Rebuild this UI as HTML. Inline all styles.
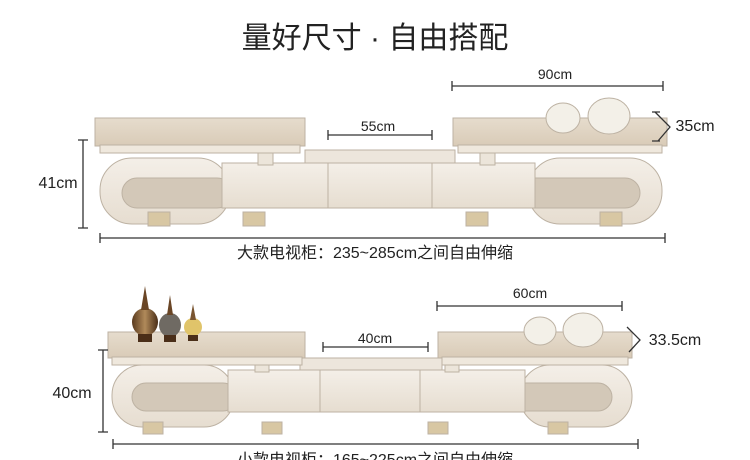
<!DOCTYPE html>
<html><head><meta charset="utf-8"><style>
html,body{margin:0;padding:0;background:#fff}
svg{display:block}
text{font-family:"Liberation Sans","Noto Sans CJK SC",sans-serif;fill:#222}
</style></head><body>
<svg width="750" height="460" viewBox="0 0 750 460" xmlns="http://www.w3.org/2000/svg">
<defs>
<linearGradient id="m" x1="0" y1="0" x2="0" y2="1"><stop offset="0" stop-color="#e6dccd"/><stop offset="1" stop-color="#d9cbb7"/></linearGradient>
<linearGradient id="b" x1="0" y1="0" x2="0" y2="1"><stop offset="0" stop-color="#f4efe8"/><stop offset="1" stop-color="#e6ddd0"/></linearGradient>
<linearGradient id="v" x1="0" y1="0" x2="1" y2="0"><stop offset="0" stop-color="#5a3a1e"/><stop offset="0.5" stop-color="#b08a5a"/><stop offset="1" stop-color="#4a2e18"/></linearGradient>
</defs>
<text x="375" y="48" font-size="30" text-anchor="middle" fill="#333">量好尺寸 · 自由搭配</text>

<g stroke="#bdb2a3" stroke-width="1">
<rect x="100" y="158" width="130" height="66" rx="32" fill="url(#b)"/>
<rect x="122" y="178" width="110" height="30" rx="15" fill="#d3c8b8"/>
<rect x="528" y="158" width="134" height="66" rx="32" fill="url(#b)"/>
<rect x="520" y="178" width="120" height="30" rx="15" fill="#d3c8b8"/>
<rect x="148" y="212" width="22" height="14" fill="#d8c7a3"/>
<rect x="243" y="212" width="22" height="14" fill="#d8c7a3"/>
<rect x="466" y="212" width="22" height="14" fill="#d8c7a3"/>
<rect x="600" y="212" width="22" height="14" fill="#d8c7a3"/>
<rect x="305" y="150" width="150" height="18" fill="#ede6dc"/>
<rect x="222" y="163" width="313" height="45" fill="url(#b)"/>
<line x1="328" y1="163" x2="328" y2="208"/><line x1="432" y1="163" x2="432" y2="208"/>
<rect x="258" y="150" width="15" height="15" fill="#ece5da"/>
<rect x="480" y="150" width="15" height="15" fill="#ece5da"/>
<rect x="95" y="118" width="210" height="28" fill="url(#m)"/>
<rect x="100" y="145" width="200" height="8" fill="#efe8dd"/>
<rect x="453" y="118" width="214" height="28" fill="url(#m)"/>
<rect x="458" y="145" width="204" height="8" fill="#efe8dd"/>
<ellipse cx="563" cy="118" rx="17" ry="15" fill="#f3f0e8"/>
<ellipse cx="609" cy="116" rx="21" ry="18" fill="#f3f0e8"/>
</g>
<g stroke="#333" stroke-width="1.3" fill="none">
<path d="M83 140V228M78 140H88M78 228H88"/>
<path d="M100 238H665M100 233V243M665 233V243"/>
<path d="M452 86H663M452 81V91M663 81V91"/>
<path d="M328 135H432M328 130V140M432 130V140"/>
<path d="M655 112L670 127L658 141M652 112H660M652 141H660"/>
</g>
<text x="58" y="188" font-size="16" text-anchor="middle">41cm</text>
<text x="555" y="79" font-size="14" text-anchor="middle">90cm</text>
<text x="378" y="131" font-size="14" text-anchor="middle">55cm</text>
<text x="695" y="131" font-size="16" text-anchor="middle">35cm</text>
<text x="375" y="258" font-size="16" text-anchor="middle">大款电视柜：235~285cm之间自由伸缩</text>

<g stroke="#bdb2a3" stroke-width="1">
<rect x="112" y="365" width="122" height="62" rx="30" fill="url(#b)"/>
<rect x="132" y="383" width="105" height="28" rx="14" fill="#d3c8b8"/>
<rect x="520" y="365" width="112" height="62" rx="30" fill="url(#b)"/>
<rect x="512" y="383" width="100" height="28" rx="14" fill="#d3c8b8"/>
<rect x="143" y="422" width="20" height="12" fill="#d8c7a3"/>
<rect x="262" y="422" width="20" height="12" fill="#d8c7a3"/>
<rect x="428" y="422" width="20" height="12" fill="#d8c7a3"/>
<rect x="548" y="422" width="20" height="12" fill="#d8c7a3"/>
<rect x="300" y="358" width="142" height="16" fill="#ede6dc"/>
<rect x="228" y="370" width="297" height="42" fill="url(#b)"/>
<line x1="320" y1="370" x2="320" y2="412"/><line x1="420" y1="370" x2="420" y2="412"/>
<rect x="255" y="358" width="14" height="14" fill="#ece5da"/>
<rect x="445" y="358" width="14" height="14" fill="#ece5da"/>
<rect x="108" y="332" width="197" height="26" fill="url(#m)"/>
<rect x="112" y="357" width="190" height="8" fill="#efe8dd"/>
<rect x="438" y="332" width="194" height="26" fill="url(#m)"/>
<rect x="442" y="357" width="186" height="8" fill="#efe8dd"/>
<ellipse cx="540" cy="331" rx="16" ry="14" fill="#f3f0e8"/>
<ellipse cx="583" cy="330" rx="20" ry="17" fill="#f3f0e8"/>
</g>
<g stroke="none">
<ellipse cx="145" cy="322" rx="13" ry="14" fill="url(#v)"/><path d="M141 310L145 286L149 310Z" fill="#6a4626"/><rect x="138" y="334" width="14" height="8" fill="#4a2e18"/>
<ellipse cx="170" cy="325" rx="11" ry="12" fill="#6f6a63"/><path d="M167 315L170 295L173 315Z" fill="#6a4626"/><rect x="164" y="335" width="12" height="7" fill="#4a2e18"/>
<ellipse cx="193" cy="327" rx="9" ry="9" fill="#e0c46a"/><path d="M190 320L193 304L196 320Z" fill="#7a5530"/><rect x="188" y="335" width="10" height="6" fill="#4a2e18"/>
</g>
<g stroke="#333" stroke-width="1.3" fill="none">
<path d="M103 350V432M98 350H108M98 432H108"/>
<path d="M113 444H638M113 439V449M638 439V449"/>
<path d="M437 306H622M437 301V311M622 301V311"/>
<path d="M323 347H428M323 342V352M428 342V352"/>
<path d="M627 327L640 340L629 352"/>
</g>
<text x="72" y="398" font-size="16" text-anchor="middle">40cm</text>
<text x="530" y="298" font-size="14" text-anchor="middle">60cm</text>
<text x="375" y="343" font-size="14" text-anchor="middle">40cm</text>
<text x="675" y="345" font-size="16" text-anchor="middle">33.5cm</text>
<text x="375" y="465" font-size="16" text-anchor="middle">小款电视柜：165~225cm之间自由伸缩</text>
</svg>
</body></html>
